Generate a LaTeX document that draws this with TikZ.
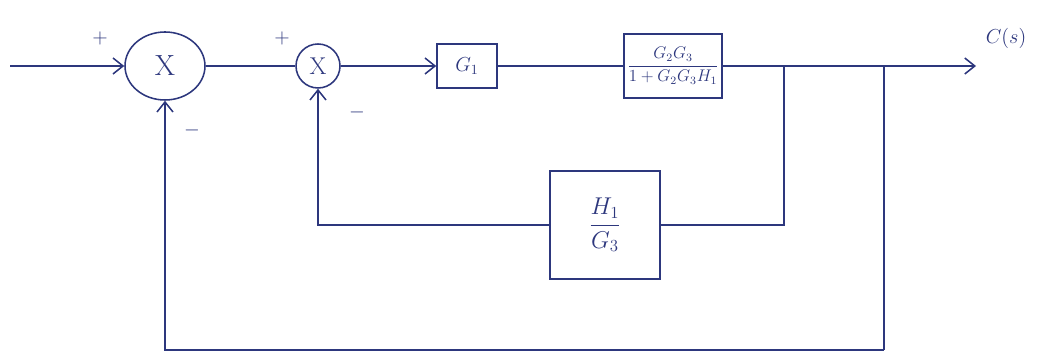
\documentclass[tikz,border=0pt]{standalone}
\usetikzlibrary{arrows.meta,shapes}
\definecolor{ink}{RGB}{45,55,125}
\tikzstyle{block} = [rectangle, draw=ink, text=ink, text centered, inner sep=2pt]
\tikzstyle{sum} = [ellipse, draw=ink, text=ink, inner sep=0pt]
\tikzstyle{sign} = [text=ink, font=\Large]

\begin{document}
\begin{tikzpicture}[>={Straight Barb[length=2.5mm,width=4mm]},line width=1.1pt,draw=ink]
  \useasboundingbox (0,0) rectangle (26.05,8.9);

  % summing points and blocks
  \node[sum, minimum width=2cm, minimum height=1.7cm] (S1) at (4.125,7.25) {\huge X};
  \node[sum, minimum size=1.1cm]                      (S2) at (7.95,7.25)  {\LARGE X};
  \node[block, minimum width=1.5cm, minimum height=1.1cm] (G1) at (11.675,7.25) {\Large $G_1$};
  \node[block, minimum width=2.45cm, minimum height=1.6cm] (G23) at (16.825,7.25)
        {\large $\displaystyle\frac{G_2G_3}{1+G_2G_3H_1}$};
  \node[block, minimum width=2.75cm, minimum height=2.7cm] (H) at (15.125,3.275)
        {\LARGE $\displaystyle\frac{H_1}{G_3}$};

  % signs and output
  \node[sign] (p1) at (2.5,7.95)   {$+$};
  \node[sign] (m1) at (4.8,5.65)   {$-$};
  \node[sign] (p2) at (7.05,7.95)  {$+$};
  \node[sign] (m2) at (8.925,6.1)  {$-$};
  \node[sign] (cs) at (25.15,7.95) {$C(s)$};

  \coordinate (in)  at (0.25,7.25);
  \coordinate (out) at (24.4,7.25);
  \coordinate (b1)  at (19.6,7.25);
  \coordinate (b2)  at (22.1,7.25);
  \coordinate (b3)  at (22.1,0.15);

  % forward path
  \draw[->] (in) -- (S1);
  \draw (S1) -- (S2);
  \draw[->] (S2) -- (G1);
  \draw (G1) -- (G23);
  \draw[->] (G23) -- (out);

  % feedback loops
  \draw (b1) |- (H);
  \draw[->] (H) -| (S2);
  \draw (b2) -- (b3);
  \draw[->] (b3) -| (S1);
\end{tikzpicture}
\end{document}
